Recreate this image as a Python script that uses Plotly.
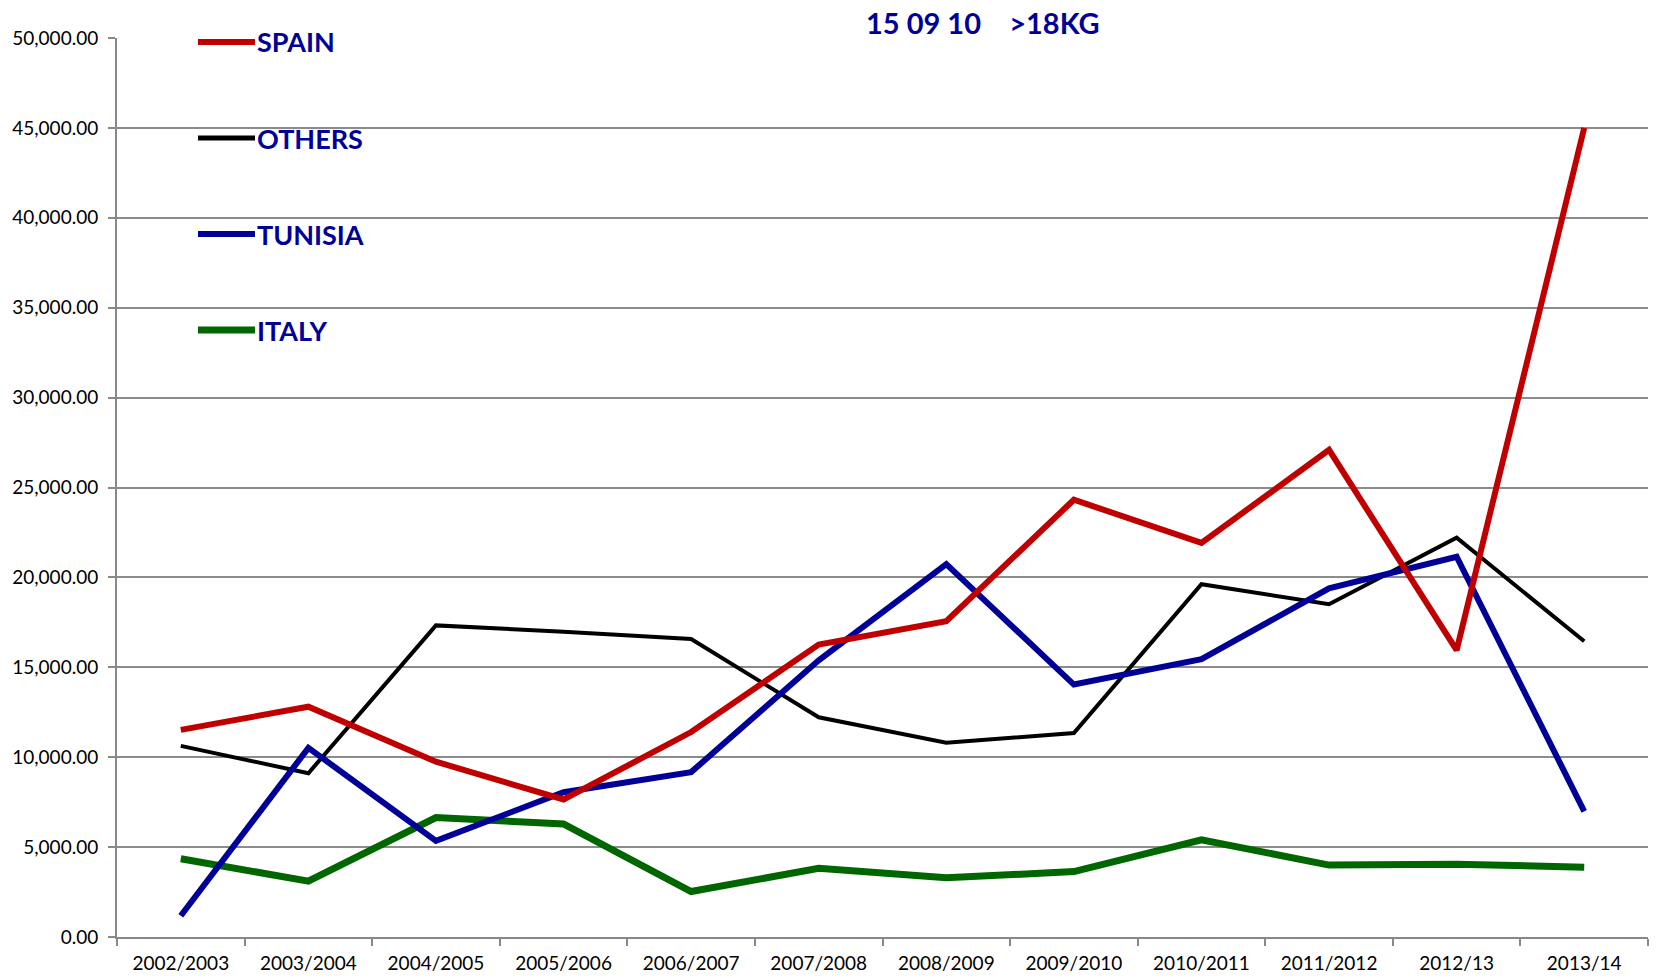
import plotly.graph_objects as go

categories = ["2002/2003", "2003/2004", "2004/2005", "2005/2006", "2006/2007", "2007/2008",
              "2008/2009", "2009/2010", "2010/2011", "2011/2012", "2012/13", "2013/14"]
spain = [11520, 12810, 9750, 7650, 11400, 16270, 17570, 24320, 21920, 27090, 15950, 45000]
others = [10630, 9110, 17330, 16980, 16570, 12220, 10810, 11340, 19620, 18510, 22210, 16450]
tunisia = [1180, 10520, 5350, 8050, 9170, 15390, 20740, 14040, 15450, 19390, 21150, 6990]
italy = [4350, 3110, 6640, 6290, 2530, 3820, 3290, 3640, 5410, 4000, 4050, 3880]
y_ticks = [0, 5000, 10000, 15000, 20000, 25000, 30000, 35000, 40000, 45000, 50000]

series = [
    ("SPAIN", spain, "#C00000", 6),
    ("OTHERS", others, "#000000", 4),
    ("TUNISIA", tunisia, "#000099", 6),
    ("ITALY", italy, "#006600", 7),
]

W, H = 1656, 978
ml, mr, mt, mb = 117, 8, 38, 41
pw, ph = W - ml - mr, H - mt - mb


def px_x(page_x):
    return (page_x - ml) / pw


def px_y(page_y):
    return 1 - (page_y - mt) / ph


fig = go.Figure()
for name, vals, col, lw in [series[3], series[1], series[2], series[0]]:
    fig.add_trace(go.Scatter(x=categories, y=vals, mode="lines", name=name,
                             line=dict(color=col, width=lw), showlegend=False))

shapes = []
annotations = []
legend_y_px = [42, 138, 234, 330]
for (name, vals, col, lw), ypx in zip(series, legend_y_px):
    yp = px_y(ypx)
    shapes.append(dict(type="line", xref="paper", yref="paper", x0=px_x(198), x1=px_x(255),
                       y0=yp, y1=yp, line=dict(color=col, width=max(lw, 5))))
    annotations.append(dict(xref="paper", yref="paper", x=px_x(255), y=yp, xanchor="left",
                            yanchor="middle", text=f"<b>{name}</b>", showarrow=False,
                            font=dict(family="Lato", size=27, color="#000099")))

annotations.append(dict(xref="paper", yref="paper", x=px_x(983), y=px_y(22),
                        xanchor="center", yanchor="middle",
                        text="<b>15 09 10\u00a0\u00a0\u00a0\u00a0>18KG</b>", showarrow=False,
                        font=dict(family="Lato", size=29, color="#000099")))

fig.update_layout(
    width=W, height=H,
    margin=dict(l=ml, r=mr, t=mt, b=mb, pad=0, autoexpand=False),
    paper_bgcolor="white", plot_bgcolor="white",
    showlegend=False,
    shapes=shapes, annotations=annotations,
    font=dict(family="Lato", size=19, color="#000000"),
)
fig.update_xaxes(type="category", range=[-0.5, 11.5], tickson="boundaries", automargin=False,
                 ticks="outside", ticklen=7, tickcolor="#888888", tickwidth=1.5,
                 showline=True, linecolor="#888888", linewidth=2, showgrid=False,
                 ticklabelstandoff=8, tickfont=dict(family="Lato", size=19, color="#000000"))
fig.update_yaxes(range=[0, 50000], tickvals=y_ticks, automargin=False,
                 ticktext=[f"{v:,.2f}" for v in y_ticks],
                 ticks="outside", ticklen=7, tickcolor="#888888", tickwidth=1.5,
                 showline=True, linecolor="#888888", linewidth=2,
                 showgrid=True, gridcolor="#8c8c8c", gridwidth=2, zeroline=False,
                 ticklabelstandoff=6, tickfont=dict(family="Lato", size=19, color="#000000"))

fig.write_html("out.html", config={"displayModeBar": False},
               post_script="document.body.style.margin='0';document.body.style.overflow='hidden';")
